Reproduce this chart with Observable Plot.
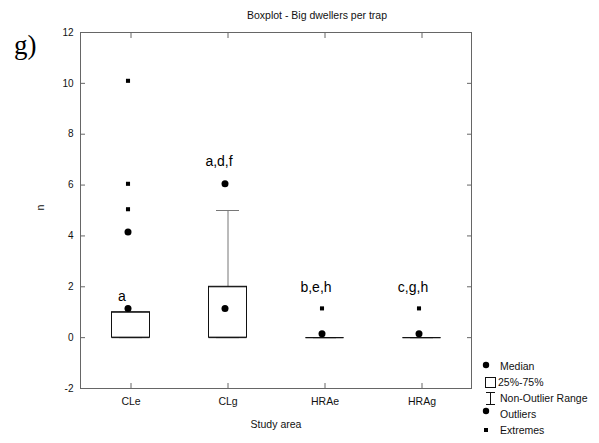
<!DOCTYPE html>
<html><head><meta charset="utf-8">
<script src="https://cdn.jsdelivr.net/npm/d3@7"></script>
<script src="https://cdn.jsdelivr.net/npm/@observablehq/plot@0.6"></script>
<style>
body{margin:0;background:#fff;font-family:"Liberation Sans",Arial,sans-serif;}
#wrap{position:relative;width:599px;height:443px;overflow:hidden;}
#title{position:absolute;left:0;width:634px;top:9px;text-align:center;font-size:10.5px;color:#111;white-space:nowrap;}
#tag{position:absolute;left:14px;top:30px;font-family:"Liberation Serif","DejaVu Serif",serif;font-size:27px;color:#000;}
#legend{position:absolute;left:480px;top:358px;font-size:10.5px;color:#111;}
#legend .row{height:16px;display:flex;align-items:center;white-space:nowrap;}
#legend svg{width:18px;height:16px;flex:none;}
</style></head><body><div id="wrap"></div>
<script>
// ---- data ----
const categories   = ["CLe", "CLg", "HRAe", "HRAg"];
const q1Values     = [0, 0, 0, 0];
const q3Values     = [1, 2, 0, 0];
const medianValues = [1.15, 1.15, 0.15, 0.15];
const whiskerLow   = [0, 0, 0, 0];
const whiskerHigh  = [1, 5, 0, 0];
const outlierArea  = ["CLe", "CLg"];
const outlierValue = [4.15, 6.05];
const extremeArea  = ["CLe", "CLe", "CLe", "HRAe", "HRAg"];
const extremeValue = [5.05, 6.05, 10.1, 1.15, 1.15];
const letterText   = ["a", "a,d,f", "b,e,h", "c,g,h"];
const letterValue  = [1.45, 6.75, 1.8, 1.8];
const yTicks       = [-2, 0, 2, 4, 6, 8, 10, 12];
const titleText    = "Boxplot - Big dwellers per trap";
const xLabel       = "Study area";
const yLabel       = "n";
const panelTag     = "g)";
const legendItems  = ["Median", "25%-75%", "Non-Outlier Range", "Outliers", "Extremes"];

// ---- tables built from the arrays ----
const boxes = categories.map((c, i) => ({area: c, q1: q1Values[i], q3: q3Values[i], med: medianValues[i], lo: whiskerLow[i], hi: whiskerHigh[i]}));
const outliers = outlierArea.map((c, i) => ({area: c, n: outlierValue[i]}));
const extremes = extremeArea.map((c, i) => ({area: c, n: extremeValue[i]}));
const letters = categories.map((c, i) => ({area: c, n: letterValue[i], t: letterText[i]}));

const frameColor = "#666";
const ink = "#111";

const chart = Plot.plot({
  width: 599,
  height: 443,
  marginLeft: 80,
  marginRight: 128,
  marginTop: 32,
  marginBottom: 55,
  style: {fontFamily: "'Liberation Sans', Arial, sans-serif", fontSize: "10px", color: ink, background: "white"},
  x: {domain: categories, padding: 0},
  y: {domain: [-2, 12]},
  marks: [
    // whiskers (non-outlier range)
    Plot.ruleX(boxes, {x: "area", y1: "q3", y2: "hi", stroke: "#777"}),
    Plot.ruleX(boxes, {x: "area", y1: "lo", y2: "q1", stroke: "#777"}),
    Plot.tickY(boxes, {x: "area", y: "hi", stroke: "#777", inset: 37}),
    Plot.tickY(boxes, {x: "area", y: "lo", stroke: "#777", inset: 37}),
    // 25%-75% boxes
    Plot.barY(boxes, {x: "area", y1: "q1", y2: "q3", fill: "white", stroke: ink, insetLeft: 29.5, insetRight: 29.5}),
    Plot.tickY(boxes, {x: "area", y: "q1", stroke: ink, inset: 29.5}),
    Plot.tickY(boxes, {x: "area", y: "q3", stroke: ink, inset: 29.5}),
    // median, outliers, extremes
    Plot.dot(boxes, {x: "area", y: "med", r: 3.5, fill: "black", stroke: null, dx: -3}),
    Plot.dot(outliers, {x: "area", y: "n", r: 3.5, fill: "black", stroke: null, dx: -3}),
    Plot.dot(extremes, {x: "area", y: "n", symbol: "square", r: 2.3, fill: "black", stroke: null, dx: -3}),
    // significance letters
    Plot.text(letters, {x: "area", y: "n", text: "t", fontSize: 14, dx: -9, lineAnchor: "bottom", fill: "black"}),
    // axes
    Plot.axisY({anchor: "left", ticks: yTicks, tickSize: -5, tickPadding: 12, tickFormat: d => String(d), stroke: frameColor, label: null, fontSize: 10}),
    Plot.axisY({anchor: "right", ticks: yTicks, tickSize: -5, tickFormat: () => "", stroke: frameColor, label: null}),
    Plot.axisX({anchor: "bottom", tickSize: -5, tickPadding: 14, stroke: frameColor, label: null, fontSize: 10.5}),
    Plot.axisX({anchor: "top", tickSize: -5, tickFormat: () => "", stroke: frameColor, label: null}),
    Plot.frame({stroke: frameColor}),
    // axis titles
    Plot.text([xLabel], {frameAnchor: "bottom", text: d => d, dy: 39, fontSize: 10.5, fill: ink}),
    Plot.text([yLabel], {frameAnchor: "left", text: d => d, rotate: -90, dx: -40, fontSize: 10.5, fill: ink})
  ]
});

const wrap = document.getElementById("wrap");
wrap.appendChild(chart);

const title = document.createElement("div");
title.id = "title"; title.textContent = titleText; wrap.appendChild(title);
const tag = document.createElement("div");
tag.id = "tag"; tag.textContent = panelTag; wrap.appendChild(tag);

// legend
const icons = [
  '<circle cx="6" cy="7" r="3.2" fill="black"/>',
  '<rect x="5.5" y="3.5" width="10" height="10" fill="white" stroke="#111"/>',
  '<line x1="6" y1="2.5" x2="15" y2="2.5" stroke="#111"/><line x1="10.5" y1="2.5" x2="10.5" y2="14.5" stroke="#111"/><line x1="6" y1="14.5" x2="15" y2="14.5" stroke="#111"/>',
  '<circle cx="6" cy="5" r="3.2" fill="black"/>',
  '<rect x="4" y="6" width="4" height="4" fill="black"/>'
];
const legend = document.createElement("div");
legend.id = "legend";
legendItems.forEach((label, i) => {
  const row = document.createElement("div");
  row.className = "row";
  row.innerHTML = `<svg viewBox="0 0 18 16">${icons[i]}</svg><span style="margin-left:${i===1?0:2}px">${label}</span>`;
  legend.appendChild(row);
});
wrap.appendChild(legend);
</script>
</body></html>
